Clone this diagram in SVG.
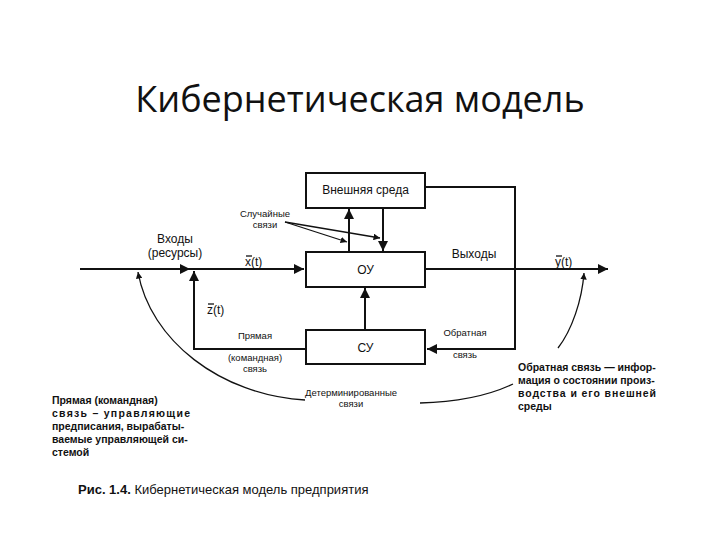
<svg xmlns="http://www.w3.org/2000/svg" width="720" height="540" viewBox="0 0 720 540">
<style>
text{font-family:"Liberation Sans",Arial,sans-serif;fill:#111}
.b{fill:#fff;stroke:#111;stroke-width:2}
.l{fill:none;stroke:#111;stroke-width:2}
.t{fill:none;stroke:#111;stroke-width:1.3}
.s{font-size:9.5px}
.m{font-size:12px}
.bt{font-size:10.5px;font-weight:bold}
</style>
<defs>
<marker id="a" viewBox="0 0 10 10" refX="10" refY="5" markerWidth="5" markerHeight="5" orient="auto"><path d="M0,0L10,5L0,10z" fill="#111"/></marker>
</defs>
<rect width="720" height="540" fill="#fff"/>
<text x="360" y="112" text-anchor="middle" style="font-size:36px;font-family:'Open Sans','Liberation Sans',sans-serif">Кибернетическая модель</text>
<g id="connectors">
<path class="l" d="M80,269H190" marker-end="url(#a)"/>
<path class="l" d="M190,269H304" marker-end="url(#a)"/>
<path class="l" d="M425,269H608" marker-end="url(#a)"/>
<path class="l" d="M349,252V209" marker-end="url(#a)"/>
<path class="l" d="M383,208V251" marker-end="url(#a)"/>
<path class="l" d="M365,330V288" marker-end="url(#a)"/>
<path class="l" d="M306,349H194V271" marker-end="url(#a)"/>
<path class="l" d="M425,187H515V349H427" marker-end="url(#a)"/>
<path class="t" d="M285,222L347,242" marker-end="url(#a)"/>
<path class="t" d="M285,222L380,238" marker-end="url(#a)"/>
<path class="t" d="M305,400C220,395 150,340 138,272" marker-end="url(#a)"/>
<path class="t" d="M558,348C572,330 582,300 584,273" marker-end="url(#a)"/>
<path class="t" d="M420,403C460,402 490,395 513,384"/>
</g>
<g id="env"><rect class="b" x="306" y="173" width="119" height="35"/><text class="m" x="365.5" y="194" text-anchor="middle">Внешняя среда</text></g>
<g id="ou"><rect class="b" x="306" y="252" width="119" height="35"/><text class="m" x="365.5" y="274" text-anchor="middle">ОУ</text></g>
<g id="su"><rect class="b" x="306" y="330" width="119" height="34"/><text class="m" x="365.5" y="352" text-anchor="middle">СУ</text></g>
<g id="labels">
<text class="s" x="265" y="217" text-anchor="middle">Случайные</text>
<text class="s" x="265" y="228" text-anchor="middle">связи</text>
<text class="m" x="175" y="243" text-anchor="middle">Входы</text>
<text class="m" x="175" y="257" text-anchor="middle">(ресурсы)</text>
<text class="m" x="245" y="266">x(t)</text><path class="t" d="M246,256h6"/>
<text class="m" x="207" y="314">z(t)</text><path class="t" d="M208,304h6"/>
<text class="s" x="255" y="339" text-anchor="middle">Прямая</text>
<text class="s" x="255" y="361" text-anchor="middle">(командная)</text>
<text class="s" x="255" y="372" text-anchor="middle">связь</text>
<text class="m" x="474" y="258" text-anchor="middle">Выходы</text>
<text class="m" x="555" y="266">y(t)</text><path class="t" d="M556,256h6"/>
<text class="s" x="465" y="336" text-anchor="middle">Обратная</text>
<text class="s" x="465" y="358" text-anchor="middle">связь</text>
<text class="s" x="351" y="396" text-anchor="middle">Детерминированные</text>
<text class="s" x="351" y="407" text-anchor="middle">связи</text>
<text class="bt" x="518" y="371">Обратная связь — инфор-</text>
<text class="bt" x="518" y="384">мация о состоянии произ-</text>
<text class="bt" x="518" y="397" textLength="138">водства и его внешней</text>
<text class="bt" x="518" y="410">среды</text>
<text class="bt" x="52" y="404">Прямая (командная)</text>
<text class="bt" x="52" y="417" textLength="138">связь – управляющие</text>
<text class="bt" x="52" y="430">предписания, вырабаты-</text>
<text class="bt" x="52" y="443">ваемые управляющей си-</text>
<text class="bt" x="52" y="456">стемой</text>
<text x="78" y="494" style="font-size:13px"><tspan font-weight="bold">Рис. 1.4.</tspan> Кибернетическая модель предприятия</text>
</g>
</svg>
